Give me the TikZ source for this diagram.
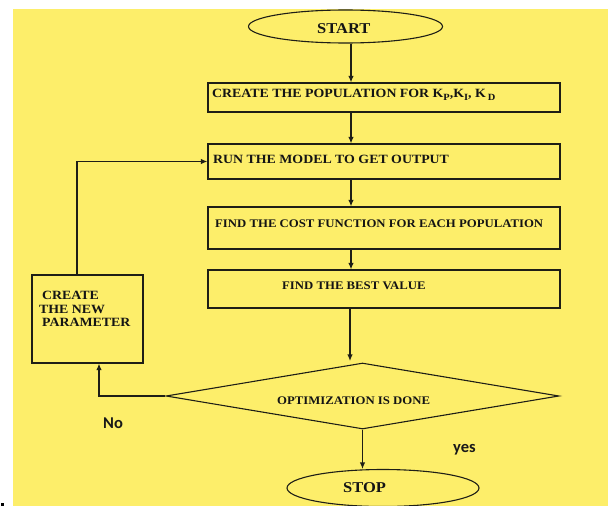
\documentclass[tikz,border=0pt]{standalone}
\usepackage{fontspec}
\setmainfont{Liberation Serif}[FakeStretch=1.1]
\newfontfamily\lblfont{Carlito}
\usetikzlibrary{arrows.meta,shapes.geometric}
\definecolor{bgyellow}{RGB}{253,238,106}
\definecolor{edge}{RGB}{30,30,22}
\newcommand\subK[1]{\raisebox{-3.5pt}{\fontsize{9.5}{9.5}\selectfont #1}}
\tikzset{
  boxshape/.style={draw=edge, line width=1.3pt, rectangle, inner sep=0pt},
  ovalshape/.style={draw=edge, line width=1.1pt, ellipse, inner sep=0pt},
  txt/.style={anchor=base west, inner sep=0pt, font=\bfseries\fontsize{12.6}{14}\selectfont, text=black!92},
  smalltxt/.style={txt, font=\bfseries\fontsize{11.6}{13}\selectfont},
  bigtxt/.style={txt, font=\bfseries\fontsize{15}{16}\selectfont},
  lbl/.style={anchor=base west, inner sep=0pt, font=\lblfont\bfseries\fontsize{16.5}{18}\selectfont, text=black!90},
  arr/.style={draw=edge, line width=1.1pt, -{Latex[length=6.5pt,width=5.5pt]}},
}
\begin{document}
\begin{tikzpicture}[x=1pt,y=-1pt]
\useasboundingbox (0,0) rectangle (608,506);
\clip (0,0) rectangle (608,506);
\fill[white] (0,0) rectangle (608,506);
\fill[bgyellow] (13,9) rectangle (608,506);
\fill[black] (1,502.5) rectangle (4,505.5);

% shapes
\node[ovalshape, minimum width=194pt, minimum height=33pt] (start) at (345.5,26.5) {};
\node[boxshape, minimum width=352pt, minimum height=29pt] (b1) at (384,97.5) {};
\node[boxshape, minimum width=352pt, minimum height=35pt] (b2) at (384,161.5) {};
\node[boxshape, minimum width=352pt, minimum height=42pt] (b3) at (384,228) {};
\node[boxshape, minimum width=352pt, minimum height=38pt] (b4) at (384,289) {};
\node[boxshape, minimum width=111pt, minimum height=88pt] (lb) at (87.5,319) {};
\node[diamond, draw=edge, line width=1.1pt, inner sep=0pt, minimum width=393pt, minimum height=66pt] (dm) at (362.5,396) {};
\node[ovalshape, minimum width=192pt, minimum height=37pt] (stop) at (383,488) {};

% texts
\node[bigtxt] (startt) at (317,34) {START};
\node[txt] (b1t) at (212,97) {CREATE THE POPULATION FOR K\subK{P},K\subK{I}, K\,\subK{D}};
\node[txt] (b2t) at (213,163) {RUN THE MODEL TO GET OUTPUT};
\node[smalltxt] (b3t) at (215,227.5) {FIND THE COST FUNCTION FOR EACH POPULATION};
\node[smalltxt] (b4t) at (282,289.5) {FIND THE BEST VALUE};
\node[txt] (lbt1) at (42,299) {CREATE};
\node[txt] (lbt2) at (39,313) {THE NEW};
\node[txt] (lbt3) at (42,326.5) {PARAMETER};
\node[smalltxt] (dmt) at (277,404.5) {OPTIMIZATION IS DONE};
\node[bigtxt] (stopt) at (343,492) {STOP};
\node[lbl] (no) at (103,428) {No};
\node[lbl] (yes) at (453,452.5) {yes};

% connectors
\coordinate (axis) at (351,0);
\coordinate (axis2) at (350,0);
\draw[arr] (start.south -| axis) -- (b1.north -| axis);
\draw[arr] (b1.south -| axis) -- (b2.north -| axis);
\draw[arr] (b2.south -| axis) -- (b3.north -| axis);
\draw[arr] (b3.south -| axis) -- (b4.north -| axis);
\draw[arr] (b4.south -| axis2) -- ([yshift=1.5pt]dm.north -| axis2);
\draw[arr] (dm.south) -- (stop.north -| dm.south);
\draw[arr] (dm.west) -| ([xshift=11.5pt]lb.south);
\draw[arr] ([xshift=-10.5pt]lb.north) |- (b2.west);
\end{tikzpicture}
\end{document}
